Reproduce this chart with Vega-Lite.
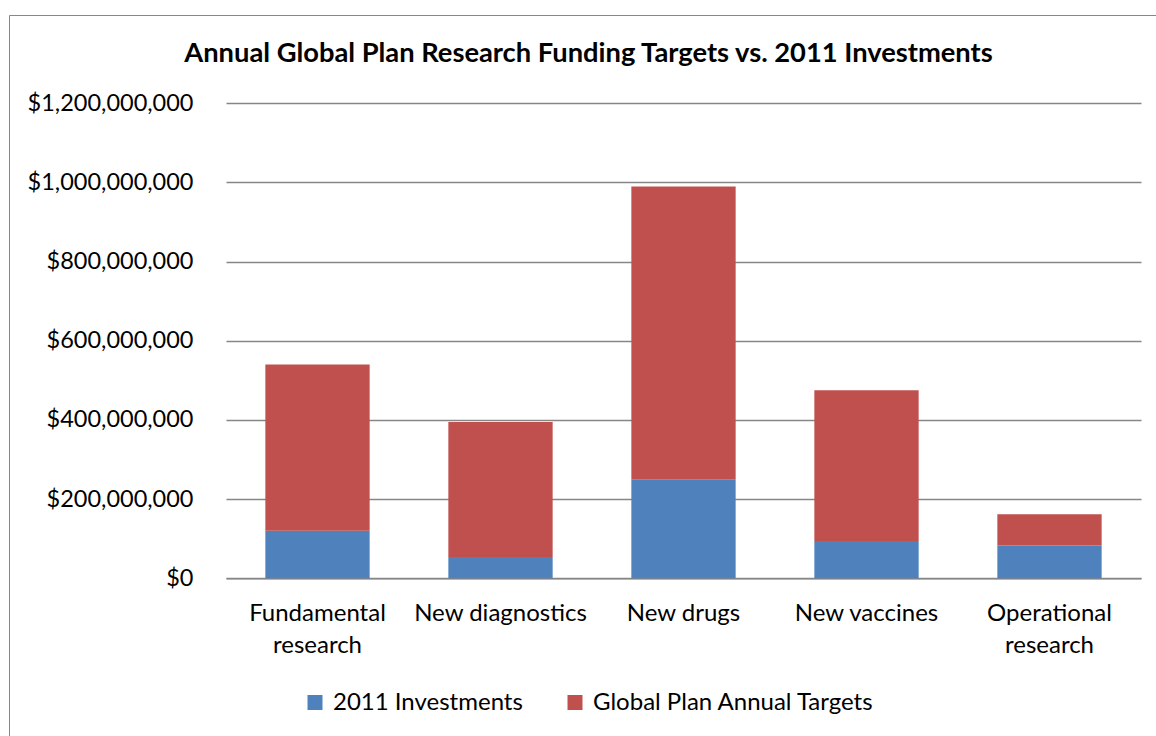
{
  "$schema": "https://vega.github.io/schema/vega-lite/v6.json",
  "autosize": {"type": "none"},
  "width": 1147,
  "height": 721,
  "padding": {"left": 9, "top": 15, "right": 0, "bottom": 0},
  "background": "white",
  "config": {
    "font": "Lato",
    "view": {"stroke": "#878787", "strokeWidth": 1, "fill": "white"}
  },
  "title": {
    "text": "Annual Global Plan Research Funding Targets vs. 2011 Investments",
    "font": "Lato",
    "fontSize": 27.3,
    "fontWeight": "bold",
    "color": "black",
    "anchor": "middle",
    "frame": "group",
    "baseline": "alphabetic",
    "offset": -74,
    "dx": 6
  },
  "data": {
    "values": [
      {"category": "Fundamental research", "series": "2011 Investments", "amount": 120000000},
      {"category": "Fundamental research", "series": "Global Plan Annual Targets", "amount": 420000000},
      {"category": "New diagnostics", "series": "2011 Investments", "amount": 54000000},
      {"category": "New diagnostics", "series": "Global Plan Annual Targets", "amount": 341000000},
      {"category": "New drugs", "series": "2011 Investments", "amount": 250000000},
      {"category": "New drugs", "series": "Global Plan Annual Targets", "amount": 740000000},
      {"category": "New vaccines", "series": "2011 Investments", "amount": 94000000},
      {"category": "New vaccines", "series": "Global Plan Annual Targets", "amount": 381000000},
      {"category": "Operational research", "series": "2011 Investments", "amount": 83000000},
      {"category": "Operational research", "series": "Global Plan Annual Targets", "amount": 79000000}
    ]
  },
  "mark": {"type": "bar"},
  "encoding": {
    "x": {
      "field": "category",
      "type": "nominal",
      "sort": null,
      "scale": {"range": [217, 1132], "paddingInner": 0.43, "paddingOuter": 0.215},
      "axis": {
        "title": null,
        "offset": -157.7,
        "ticks": false,
        "domain": true,
        "domainColor": "#868686",
        "domainWidth": 1.5,
        "labelAngle": 0,
        "labelFont": "Lato",
        "labelFontSize": 24,
        "labelColor": "black",
        "labelPadding": 23,
        "labelBaseline": "top",
        "labelLineHeight": 32,
        "labelLimit": 0,
        "labelExpr": "indexof(datum.label, 'research') > 0 ? split(datum.label, ' ') : datum.label"
      }
    },
    "y": {
      "field": "amount",
      "type": "quantitative",
      "stack": "zero",
      "scale": {"domain": [0, 1200000000], "nice": false, "range": [563.3, 88.3]},
      "axis": {
        "title": null,
        "offset": -217,
        "values": [0, 200000000, 400000000, 600000000, 800000000, 1000000000, 1200000000],
        "format": "$,.0f",
        "domain": false,
        "ticks": false,
        "grid": true,
        "gridColor": "#868686",
        "gridWidth": 1.5,
        "labelFont": "Lato",
        "labelFontSize": 23.5,
        "labelColor": "black",
        "labelPadding": 33,
        "labelLimit": 0
      }
    },
    "color": {
      "field": "series",
      "type": "nominal",
      "scale": {
        "domain": ["2011 Investments", "Global Plan Annual Targets"],
        "range": ["#4F81BD", "#C0504D"]
      },
      "legend": {
        "title": null,
        "orient": "none",
        "direction": "horizontal",
        "legendX": 294,
        "legendY": 675.5,
        "padding": 0,
        "symbolType": "square",
        "symbolSize": 225,
        "symbolStrokeWidth": 0,
        "symbolOffset": 0,
        "labelOffset": 6,
        "columnPadding": 40,
        "labelFont": "Lato",
        "labelFontSize": 24,
        "labelColor": "black",
        "labelLimit": 0
      }
    },
    "order": {"field": "series", "sort": "ascending"}
  }
}
